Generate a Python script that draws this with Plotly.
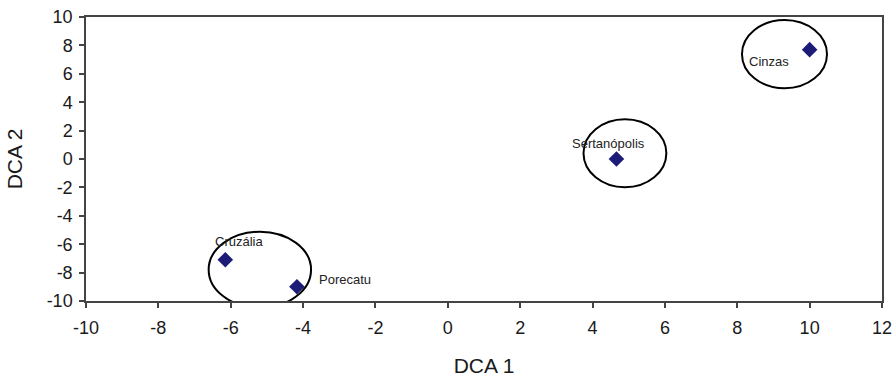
import plotly.graph_objects as go

# DCA site scores
sites = ["Cruzália", "Porecatu", "Sertanópolis", "Cinzas"]
dca1 = [-6.15, -4.17, 4.66, 10.0]
dca2 = [-7.1, -9.0, 0.0, 7.7]

# label anchor positions (data units)
label_x = [-5.78, -3.62, 4.45, 8.87]
label_y = [-5.82, -8.52, 1.11, 6.9]
label_anchor = ["center", "left", "center", "center"]

# grouping ellipses: (x0, x1, y0, y1)
groups = [
    (-6.61, -3.78, -10.47, -5.12),
    (3.75, 6.04, -1.99, 2.80),
    (8.13, 10.48, 4.98, 9.79),
]

x_ticks = list(range(-10, 13, 2))
y_ticks = list(range(-10, 11, 2))

font_family = "Liberation Sans, Arial, sans-serif"

fig = go.Figure()
fig.add_trace(go.Scatter(
    x=dca1, y=dca2, mode="markers",
    marker=dict(symbol="diamond", size=12, color="#1c1c78"),
    hoverinfo="text", text=sites, showlegend=False,
))

for name, lx, ly, anc in zip(sites, label_x, label_y, label_anchor):
    fig.add_annotation(x=lx, y=ly, text=name, showarrow=False,
                       xanchor=anc, yanchor="middle",
                       font=dict(family=font_family, size=13, color="#222222"))

for x0, x1, y0, y1 in groups:
    fig.add_shape(type="circle", xref="x", yref="y", x0=x0, x1=x1, y0=y0, y1=y1,
                  line=dict(color="black", width=2), layer="above")

axis_common = dict(
    showgrid=False, zeroline=False, showline=True, mirror=True,
    linecolor="#444444", linewidth=1.5,
    ticks="outside", ticklen=5, tickwidth=1.5, tickcolor="#444444",
    tickfont=dict(family=font_family, size=18, color="#1a1a1a"),
    automargin=False,
)

fig.update_layout(
    width=894, height=377,
    margin=dict(l=86, r=12, t=17, b=76),
    paper_bgcolor="white", plot_bgcolor="white",
    xaxis=dict(range=[-10, 12], tickvals=x_ticks, ticktext=[str(v) for v in x_ticks],
               ticklabelstandoff=5,
               title=dict(text="DCA 1", font=dict(family=font_family, size=21, color="#1a1a1a"),
                          standoff=22),
               **axis_common),
    yaxis=dict(range=[-10, 10], tickvals=y_ticks, ticktext=[str(v) for v in y_ticks],
               ticklabelstandoff=3,
               title=dict(text="DCA 2", font=dict(family=font_family, size=21, color="#1a1a1a"),
                          standoff=18),
               **axis_common),
)

fig.write_html("out.html")
